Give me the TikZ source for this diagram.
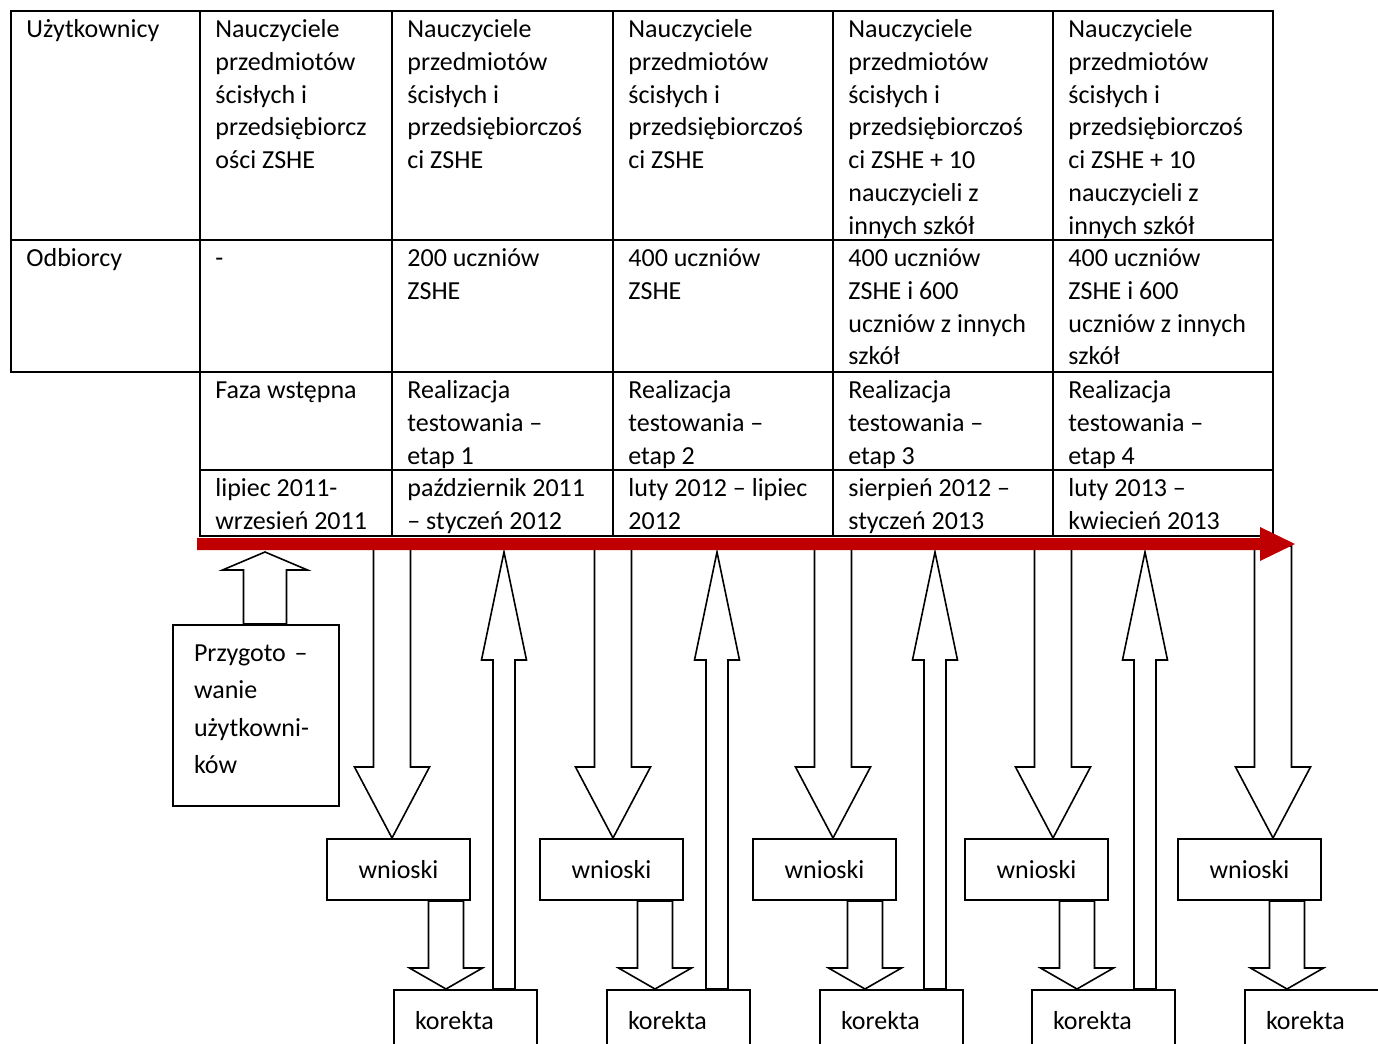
\documentclass[tikz,border=0pt]{standalone}
\usepackage{fontspec}
\setmainfont{Carlito}
\usetikzlibrary{positioning,calc}
\definecolor{timered}{RGB}{192,0,0}

\tikzset{
  cell/.style = {anchor=north west, inner sep=0pt, align=left, font=\fontsize{13}{16.35}\selectfont},
  grid/.style = {line width=1pt, line cap=rect},
  box/.style = {draw, line width=1pt, fill=white, minimum width=71.5pt, minimum height=30.5pt, inner sep=0pt, font=\fontsize{13}{16}\selectfont},
  blockline/.style = {draw, fill=white, line width=.8pt, line join=miter},
}

% vertical block arrow: from #1 to tip #2, shaft half width #3, head half width #4, head length #5
\newcommand{\blockarrow}[5]{%
  \path[blockline] let \p1=(#1), \p2=(#2), \n1={sign(\y1-\y2)} in
    (\x2-#3,\y1) -- (\x2-#3,\y2+\n1*#5) -- (\x2-#4,\y2+\n1*#5) -- (\x2,\y2)
    -- (\x2+#4,\y2+\n1*#5) -- (\x2+#3,\y2+\n1*#5) -- (\x2+#3,\y1) -- cycle;}

\begin{document}
\begin{tikzpicture}[x=.5pt, y=-.5pt]
\useasboundingbox (0,0) rectangle (1378,1044);

% table
\draw[grid] (11,11) rectangle (1273,372);
\draw[grid] (11,240) -- (1273,240);
\draw[grid] (200,470) -- (1273,470);
\draw[grid] (200,536) -- (1273,536);
\foreach \x in {200,392,613,833,1053} \draw[grid] (\x,11) -- (\x,536);
\draw[grid] (1273,372) -- (1273,536);

\node[cell] (u0) at (26,14.6) {\strut Użytkownicy};
\node[cell] (u1) at (215,14.6) {\strut Nauczyciele\\przedmiotów\\ścisłych i\\przedsiębiorcz\\ości ZSHE};
\node[cell] (u2) at (407,14.6) {\strut Nauczyciele\\przedmiotów\\ścisłych i\\przedsiębiorczoś\\ci ZSHE};
\node[cell] (u3) at (628,14.6) {\strut Nauczyciele\\przedmiotów\\ścisłych i\\przedsiębiorczoś\\ci ZSHE};
\node[cell] (u4) at (848,14.6) {\strut Nauczyciele\\przedmiotów\\ścisłych i\\przedsiębiorczoś\\ci ZSHE + 10\\nauczycieli z\\innych szkół};
\node[cell] (u5) at (1068,14.6) {\strut Nauczyciele\\przedmiotów\\ścisłych i\\przedsiębiorczoś\\ci ZSHE + 10\\nauczycieli z\\innych szkół};

\node[cell] (o0) at (26,243.6) {\strut Odbiorcy};
\node[cell] (o1) at (215,243.6) {\strut -};
\node[cell] (o2) at (407,243.6) {\strut 200 uczniów\\ZSHE};
\node[cell] (o3) at (628,243.6) {\strut 400 uczniów\\ZSHE};
\node[cell] (o4) at (848,243.6) {\strut 400 uczniów\\ZSHE i 600\\uczniów z innych\\szkół};
\node[cell] (o5) at (1068,243.6) {\strut 400 uczniów\\ZSHE i 600\\uczniów z innych\\szkół};

\node[cell] (f1) at (215,375.6) {\strut Faza wstępna};
\node[cell] (f2) at (407,375.6) {\strut Realizacja\\testowania –\\etap 1};
\node[cell] (f3) at (628,375.6) {\strut Realizacja\\testowania –\\etap 2};
\node[cell] (f4) at (848,375.6) {\strut Realizacja\\testowania –\\etap 3};
\node[cell] (f5) at (1068,375.6) {\strut Realizacja\\testowania –\\etap 4};

\node[cell] (d1) at (215,473.6) {\strut lipiec 2011-\\wrzesień 2011};
\node[cell] (d2) at (407,473.6) {\strut październik 2011\\– styczeń 2012};
\node[cell] (d3) at (628,473.6) {\strut luty 2012 – lipiec\\2012};
\node[cell] (d4) at (848,473.6) {\strut sierpień 2012 –\\styczeń 2013};
\node[cell] (d5) at (1068,473.6) {\strut luty 2013 –\\kwiecień 2013};

% preparation box
\node[box, anchor=north west, text width=62pt, inner xsep=10.5pt, inner ysep=0pt, align=left,
  font=\fontsize{13}{18.75}\selectfont] (prep) at (172,624)
  {\rule{0pt}{18pt}Przygoto –\\wanie\\użytkowni-\\ków\rule[-16.25pt]{0pt}{16.25pt}};
\coordinate (pa) at (265,552);
\blockarrow{prep.north -| pa}{pa}{10.75pt}{21.25pt}{9pt}

% conclusions and corrections
\foreach \c/\w/\k/\s [count=\i] in {392/326/393/446, 613/539/606/655, 833/752/819/865, 1053/964/1031/1077, 1273/1177/1244/1287} {
  \node[box, anchor=north west] (w\i) at (\w,838) {wnioski};
  \node[box, anchor=north west, text width=50.5pt, inner xsep=10.5pt, align=left] (k\i) at (\k,989) {korekta};
  \coordinate (t\i) at (\c,546);
  \coordinate (s\i) at (\s,984);
  \blockarrow{t\i}{w\i.north -| t\i}{9.25pt}{18.75pt}{35.5pt}
  \blockarrow{w\i.south -| s\i}{k\i.north -| s\i}{8.75pt}{18.25pt}{10.5pt}
}
\foreach \u [count=\i] in {504,717,935,1145} {
  \coordinate (r\i) at (\u,552);
  \blockarrow{k\i.north -| r\i}{r\i}{5.5pt}{11.25pt}{54pt}
}

% timeline
\fill[timered] (197,538) -- (1260,538) -- (1260,527) -- (1295,544) -- (1260,561) -- (1260,550) -- (197,550) -- cycle;

\end{tikzpicture}
\end{document}
